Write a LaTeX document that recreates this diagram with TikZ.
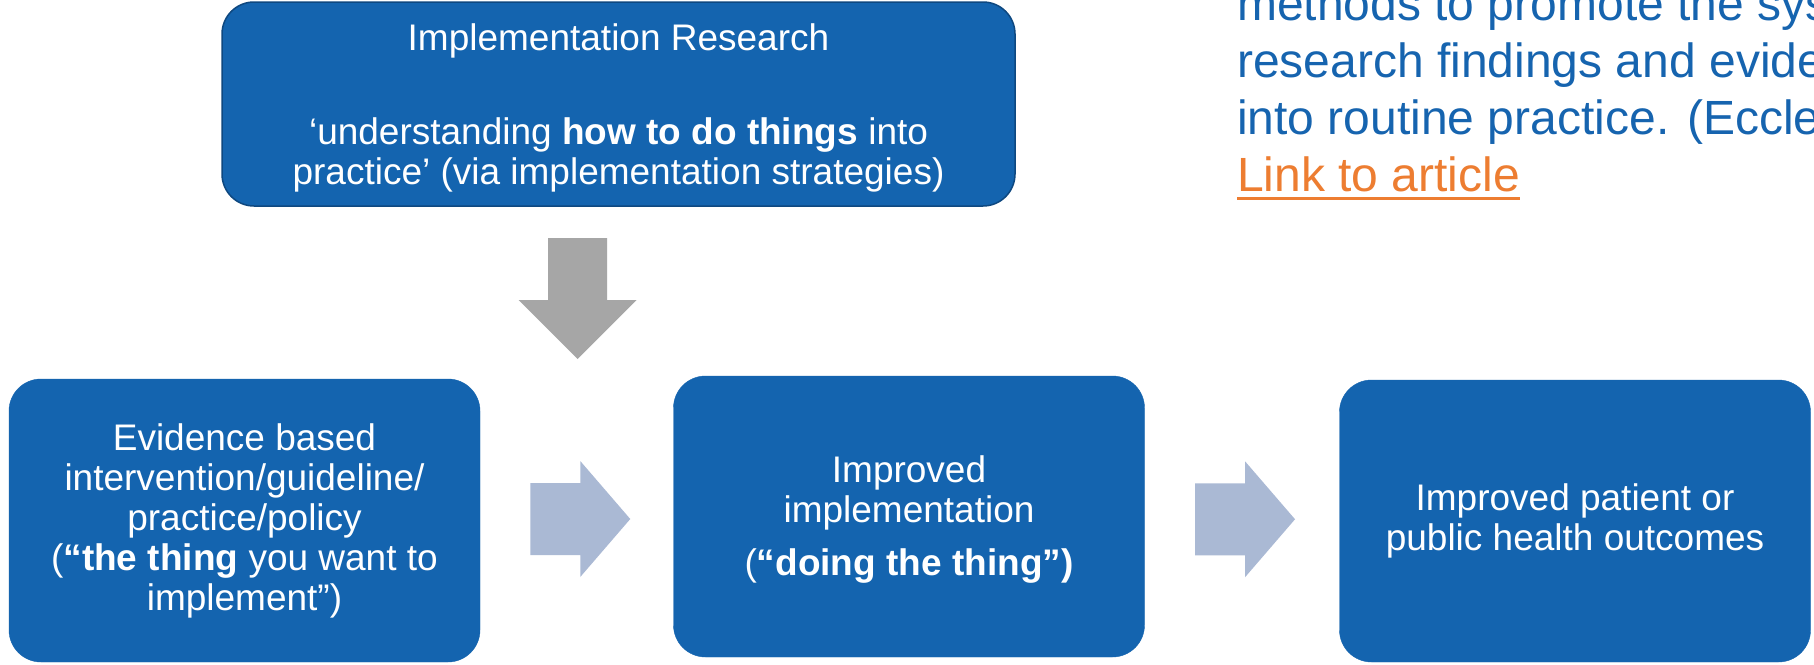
\documentclass[tikz,border=0pt]{standalone}
\usepackage{fontspec}
\setmainfont{Liberation Sans}
\usepackage{tikz}
\usetikzlibrary{calc}
\usepackage{xcolor}

\definecolor{boxblue}{RGB}{20,100,175}
\definecolor{boxedge}{RGB}{14,72,128}
\definecolor{defblue}{RGB}{22,100,175}
\definecolor{linkorange}{RGB}{237,125,49}
\definecolor{arrowgrey}{RGB}{166,166,166}
\definecolor{arrowpale}{RGB}{170,185,212}

\tikzset{
  box/.style={draw=boxblue, fill=boxblue, rounded corners=32, inner sep=0,
    minimum width=471, minimum height=282},
  boxtext/.style={text=white, align=center, inner sep=0,
    font=\fontsize{37}{40}\selectfont},
  deftext/.style={anchor=base west, inner sep=0, text=defblue,
    font=\fontsize{48}{57}\selectfont},
  rightarrow/.pic={
    \fill[arrowpale] (-50,-36) -- (0,-36) -- (0,-58) -- (50,0) -- (0,58) -- (0,36) -- (-50,36) -- cycle;
  },
  downarrow/.pic={
    \fill[arrowgrey] (-29.5,0) -- (29.5,0) -- (29.5,62) -- (59,62) -- (0,121) -- (-59,62) -- (-29.5,62) -- cycle;
  }
}

\begin{document}
\begin{tikzpicture}[x=1pt, y=-1pt]
  \useasboundingbox (0,0) rectangle (1814,664);
  \fill[white] (0,0) rectangle (1814,664);

  % top box
  \node[box, draw=boxedge, line width=1.5, minimum width=793, minimum height=204] (research) at (618.5,104) {};
  \node[boxtext] (researchtext) at ([yshift=-4]research.center)
    {Implementation Research\\[54pt]
     ‘understanding \textbf{how to do things} into\\
     practice’ (via implementation strategies)};

  % definition text (top right)
  \node[deftext] (def1) at (1237,20) {methods to promote the sys};
  \node[deftext] (def2) at (1237,77) {research findings and evide};
  \node[deftext] (def3) at (1237,134) {into routine practice. (Eccle};
  \node[deftext, text=linkorange] (link) at (1237,191) {Link to article};
  \draw[linkorange, line width=3] ([yshift=-7]link.base west) -- ([yshift=-7]link.base east);

  % bottom row
  \node[box, minimum height=283] (evidence) at (244.5,520.5) {};
  \node[boxtext] (evidencetext) at (evidence.center)
    {Evidence based\\
     intervention/guideline/\\
     practice/policy\\
     (\textbf{“the thing} you want to\\
     implement”)};
  \node[box, minimum height=281] (improved) at (909,516.5) {};
  \node[boxtext] (improvedtext) at ([yshift=-3]improved.center)
    {Improved\\
     implementation\\[13pt]
     (\textbf{“doing the thing”)}};
  \node[box] (outcome) at (1575,521) {};
  \node[boxtext] (outcometext) at (outcome.center)
    {Improved patient or\\
     public health outcomes};

  % arrows
  \pic at (577.5,238) {downarrow};
  \pic at ($(evidence.east)!0.5!(improved.west)+(3.5,0.5)$) {rightarrow};
  \pic at ($(improved.east)!0.5!(outcome.west)+(3,0.5)$) {rightarrow};
\end{tikzpicture}
\end{document}
